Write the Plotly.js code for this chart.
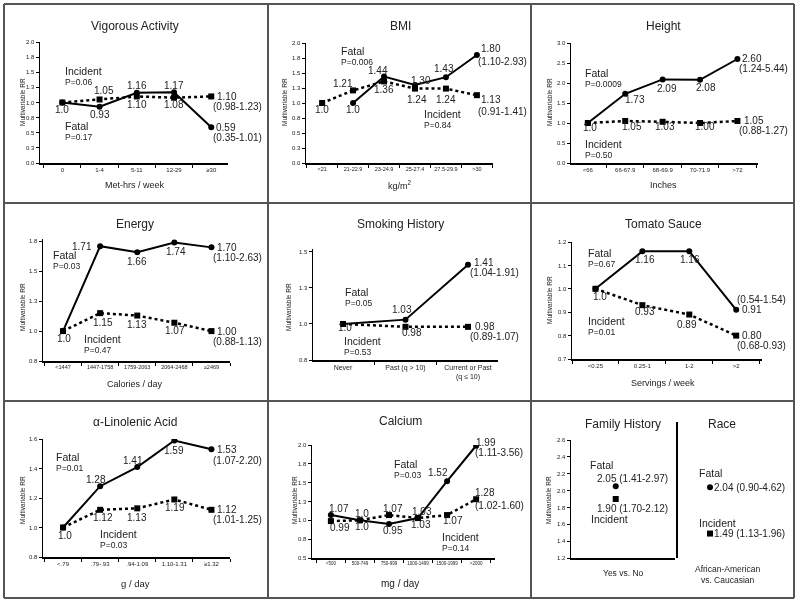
<!DOCTYPE html>
<html><head><meta charset="utf-8">
<script src="https://cdn.plot.ly/plotly-3.0.1.min.js"></script>
<style>html,body{margin:0;padding:0;background:#fff}#chart{width:800px;height:605px}
.main-svg{will-change:transform}
svg text{-webkit-font-smoothing:antialiased}</style>
</head><body><div id="chart"></div>
<script>
// ---------------- DATA ----------------
const vigCats = ["0", "1-4", "5-11", "12-29", "≥30"];
const vigFatal = [1.0, 0.93, 1.16, 1.17, 0.59];
const vigIncident = [1.0, 1.05, 1.10, 1.08, 1.10];
const vigFatalCI = "(0.35-1.01)", vigIncidentCI = "(0.98-1.23)";
const vigFatalP = "P=0.17", vigIncidentP = "P=0.06";

const bmiCats = ["<21", "21-22.9", "23-24.9", "25-27.4", "27.5-29.9", ">30"];
const bmiFatal = [null, 1.0, 1.44, 1.30, 1.43, 1.80];
const bmiIncident = [1.0, 1.21, 1.36, 1.24, 1.24, 1.13];
const bmiFatalCI = "(1.10-2.93)", bmiIncidentCI = "(0.91-1.41)";
const bmiFatalP = "P=0.006", bmiIncidentP = "P=0.84";

const htCats = ["<66", "66-67.9", "68-69.9", "70-71.9", ">72"];
const htFatal = [1.0, 1.73, 2.09, 2.08, 2.60];
const htIncident = [1.0, 1.05, 1.03, 1.00, 1.05];
const htFatalCI = "(1.24-5.44)", htIncidentCI = "(0.88-1.27)";
const htFatalP = "P=0.0009", htIncidentP = "P=0.50";

const enCats = ["<1447", "1447-1758", "1759-2063", "2064-2468", "≥2469"];
const enFatal = [1.0, 1.71, 1.66, 1.74, 1.70];
const enIncident = [1.0, 1.15, 1.13, 1.07, 1.00];
const enFatalCI = "(1.10-2.63)", enIncidentCI = "(0.88-1.13)";
const enFatalP = "P=0.03", enIncidentP = "P=0.47";

const smCats = ["Never", "Past (q > 10)", "Current or Past<br>(q ≤ 10)"];
const smFatal = [1.0, 1.03, 1.41];
const smIncident = [1.0, 0.98, 0.98];
const smFatalCI = "(1.04-1.91)", smIncidentCI = "(0.89-1.07)";
const smFatalP = "P=0.05", smIncidentP = "P=0.53";

const tsCats = ["<0.25", "0.25-1", "1-2", ">2"];
const tsFatal = [1.0, 1.16, 1.16, 0.91];
const tsIncident = [1.0, 0.93, 0.89, 0.80];
const tsFatalCI = "(0.54-1.54)", tsIncidentCI = "(0.68-0.93)";
const tsFatalP = "P=0.67", tsIncidentP = "P=0.01";

const laCats = ["<.79", ".79-.93", ".94-1.09", "1.10-1.31", "≥1.32"];
const laFatal = [1.0, 1.28, 1.41, 1.59, 1.53];
const laIncident = [1.0, 1.12, 1.13, 1.19, 1.12];
const laFatalCI = "(1.07-2.20)", laIncidentCI = "(1.01-1.25)";
const laFatalP = "P=0.01", laIncidentP = "P=0.03";

const caCats = ["<500", "500-749", "750-999", "1000-1499", "1500-1999", ">2000"];
const caFatal = [1.07, 1.0, 0.95, 1.03, 1.52, 1.99];
const caIncident = [0.99, 1.0, 1.07, 1.03, 1.07, 1.28];
const caFatalCI = "(1.11-3.56)", caIncidentCI = "(1.02-1.60)";
const caFatalP = "P=0.03", caIncidentP = "P=0.14";

const famFatal = 2.05, famIncident = 1.90;
const famFatalCI = "(1.41-2.97)", famIncidentCI = "(1.70-2.12)";
const raceFatal = 2.04, raceIncident = 1.49;
const raceFatalCI = "(0.90-4.62)", raceIncidentCI = "(1.13-1.96)";

// ---------------- STYLE / LAYOUT ----------------
const FONT = "'Liberation Sans', Arial, sans-serif";
const TXT = "#222";
const W = 800, H = 605;
const px = x => x / W, py = y => 1 - y / H;

const panels = [
  {title:"Vigorous Activity", xtitle:"Met-hrs / week", cats:vigCats, fatal:vigFatal, inc:vigIncident,
   fCIt:vigFatalCI, iCIt:vigIncidentCI, fP:vigFatalP, iP:vigIncidentP, fRef:0, iRef:0,
   g:{x0:40,x1:228,yt:42,yb:163,xr:[-0.6,4.45],yr:[0,2],t0:0,dt:0.25,tfs:6,
      tp:[135,26], xtp:[135,185,9], ytp:[22,102], ft:[63,126], it:[63,71],
      fLab:[[0,7,'c'],[0,8,'c'],[0,-7,'c'],[0,-7,'c'],[3,0,'l']],
      iLab:[null,[4,-9,'c'],[0,8,'c'],[0,7,'c'],[4,0,'l']], fCI:[0,10], iCI:[0,10]}},
  {title:"BMI", xtitle:"kg/m<sup>2</sup>", cats:bmiCats, fatal:bmiFatal, inc:bmiIncident,
   fCIt:bmiFatalCI, iCIt:bmiIncidentCI, fP:bmiFatalP, iP:bmiIncidentP, fRef:1, iRef:0,
   g:{x0:306,x1:493,yt:43,yb:163,xr:[-0.52,5.52],yr:[0,2],t0:0,dt:0.25,tfs:5.5,
      tp:[400,26], xtp:[400,185,9], ytp:[284,102], ft:[339,51], it:[422,114],
      fLab:[null,[0,7,'c'],[-6,-6,'c'],[6,-4,'c'],[-2,-9,'c'],[2,-6,'l']],
      iLab:[[0,7,'c'],[-10,-7,'c'],[0,8,'c'],[2,11,'c'],[0,11,'c'],[2,4,'l']], fCI:[-1,7], iCI:[-1,16]}},
  {title:"Height", xtitle:"Inches", cats:htCats, fatal:htFatal, inc:htIncident,
   fCIt:htFatalCI, iCIt:htIncidentCI, fP:htFatalP, iP:htIncidentP, fRef:0, iRef:0,
   g:{x0:571,x1:758,yt:43,yb:163,xr:[-0.45,4.55],yr:[0,3],t0:0,dt:0.5,tfs:6,
      tp:[663,26], xtp:[663,185,9], ytp:[549,102], ft:[583,73], it:[583,144],
      fLab:[[2,5,'c'],[10,6,'c'],[4,9,'c'],[6,8,'c'],[3,0,'l']],
      iLab:[null,[7,6,'c'],[2,5,'c'],[5,4,'c'],[5,0,'l']], fCI:[0,10], iCI:[0,10]}},
  {title:"Energy", xtitle:"Calories / day", cats:enCats, fatal:enFatal, inc:enIncident,
   fCIt:enFatalCI, iCIt:enIncidentCI, fP:enFatalP, iP:enIncidentP, fRef:0, iRef:0,
   g:{x0:43,x1:230,yt:239,yb:361,xr:[-0.54,4.5],yr:[0.75,1.77],t0:0.75,dt:0.25,tfs:5.5,
      tp:[135,224], xtp:[135,384,9], ytp:[22,307], ft:[51,255], it:[82,339],
      fLab:[[1,7,'c'],[-6,0,'r'],[0,9,'c'],[2,9,'c'],[4,0,'l']],
      iLab:[null,[3,9,'c'],[0,9,'c'],[1,8,'c'],[4,0,'l']], fCI:[0,10], iCI:[0,10]}},
  {title:"Smoking History", xtitle:"", cats:smCats, fatal:smFatal, inc:smIncident,
   fCIt:smFatalCI, iCIt:smIncidentCI, fP:smFatalP, iP:smIncidentP, fRef:0, iRef:0,
   g:{x0:313,x1:498,yt:249,yb:360,xr:[-0.48,2.48],yr:[0.75,1.52],t0:0.75,dt:0.25,tfs:7,
      tp:[400,224], xtp:null, ytp:[288,307], ft:[343,292], it:[342,341],
      fLab:[[2,4,'c'],[-4,-10,'c'],[4,-2,'l']],
      iLab:[null,[6,6,'c'],[5,0,'l']], fCI:[0,8], iCI:[0,10]}},
  {title:"Tomato Sauce", xtitle:"Servings / week", cats:tsCats, fatal:tsFatal, inc:tsIncident,
   fCIt:tsFatalCI, iCIt:tsIncidentCI, fP:tsFatalP, iP:tsIncidentP, fRef:0, iRef:0,
   g:{x0:572,x1:762,yt:242,yb:359,xr:[-0.5,3.55],yr:[0.7,1.2],t0:0.7,dt:0.1,tfs:6,
      tp:[663,224], xtp:[663,383,9], ytp:[549,300], ft:[586,253], it:[586,321],
      fLab:[[5,8,'c'],[3,8,'c'],[1,8,'c'],[4,0,'l']],
      iLab:[null,[3,6,'c'],[-2,10,'c'],[4,0,'l']], fCI:[-1,-10], iCI:[-1,10]}},
  {title:"α-Linolenic Acid", xtitle:"g / day", cats:laCats, fatal:laFatal, inc:laIncident,
   fCIt:laFatalCI, iCIt:laIncidentCI, fP:laFatalP, iP:laIncidentP, fRef:0, iRef:0,
   g:{x0:43,x1:230,yt:439,yb:557,xr:[-0.54,4.5],yr:[0.8,1.6],t0:0.8,dt:0.2,tfs:6,
      tp:[135,422], xtp:[135,583,9.5], ytp:[22,500], ft:[54,457], it:[98,534],
      fLab:[[2,8,'c'],[-4,-7,'c'],[-4,-7,'c'],[0,10,'c'],[4,0,'l']],
      iLab:[null,[3,8,'c'],[0,9,'c'],[1,8,'c'],[4,0,'l']], fCI:[0,11], iCI:[0,10]}},
  {title:"Calcium", xtitle:"mg / day", cats:caCats, fatal:caFatal, inc:caIncident,
   fCIt:caFatalCI, iCIt:caIncidentCI, fP:caFatalP, iP:caIncidentP, fRef:1, iRef:1,
   g:{x0:312,x1:495,yt:445,yb:558,xr:[-0.65,5.65],yr:[0.5,2.0],t0:0.5,dt:0.25,tfs:4.5,
      tp:[400,421], xtp:[400,583,10], ytp:[294,500], ft:[392,464], it:[440,537],
      fLab:[[8,-7,'c'],[2,-7,'c'],[4,6,'c'],[4,-7,'c'],[-9,-9,'c'],[-2,-3,'l']],
      iLab:[[9,6,'c'],[2,6,'c'],[4,-7,'c'],[3,6,'c'],[6,5,'c'],[9,-7,'c']], fCI:[-3,7], iCI:[-3,6]}}
];

const data = [];
const annotations = [];
const shapes = [];
const layout = {
  width: W, height: H, margin:{l:0,r:0,t:0,b:0}, showlegend:false,
  paper_bgcolor:'#fff', plot_bgcolor:'#fff', font:{family:FONT, color:TXT},
  annotations, shapes
};

function paperText(text, x, y, size, anchor, extra) {
  annotations.push(Object.assign({xref:'paper', yref:'paper', x:px(x), y:py(y), text, showarrow:false,
    xanchor:anchor||'left', yanchor:'middle', font:{family:FONT, size, color:TXT}}, extra||{}));
}

function fatalStyle() {
  return {mode:'lines+markers', line:{color:'#000', width:2}, marker:{symbol:'circle', size:6, color:'#000'}, hoverinfo:'skip'};
}
function incStyle() {
  return {mode:'lines+markers', line:{color:'#000', width:2.5, dash:'dot'}, marker:{symbol:'square', size:6, color:'#000'}, hoverinfo:'skip'};
}

function axisBase() {
  return {showline:true, linecolor:'#000', linewidth:1.5, ticks:'outside', ticklen:3, tickwidth:1,
          tickcolor:'#000', showgrid:false, zeroline:false, fixedrange:true};
}

function addValueLabels(vals, labs, ref, xa, ya) {
  vals.forEach((v, i) => {
    const L = labs[i];
    if (v == null || !L) return;
    annotations.push({xref:xa, yref:ya, x:i, y:v, text: i === ref ? '1.0' : v.toFixed(2),
      showarrow:false, xanchor: L[2]==='l' ? 'left' : (L[2]==='r' ? 'right' : 'center'),
      yanchor:'middle', xshift:L[0], yshift:-L[1], font:{family:FONT, size:10, color:TXT}});
  });
}

panels.forEach((p, k) => {
  const n = k + 1, g = p.g;
  const xa = n === 1 ? 'x' : 'x' + n, ya = n === 1 ? 'y' : 'y' + n;
  const xk = n === 1 ? 'xaxis' : 'xaxis' + n, yk = n === 1 ? 'yaxis' : 'yaxis' + n;
  layout[xk] = Object.assign(axisBase(), {domain:[px(g.x0), px(g.x1)], anchor:ya, type:'category',
    tickson:'boundaries', range:g.xr, tickangle:0, tickfont:{family:FONT, size:g.tfs, color:TXT},
    categoryorder:'array', categoryarray:p.cats});
  layout[yk] = Object.assign(axisBase(), {domain:[py(g.yb), py(g.yt)], anchor:xa, range:g.yr,
    tick0:g.t0, dtick:g.dt, tickformat:'.1f', tickfont:{family:FONT, size:6, color:TXT}});
  data.push(Object.assign(incStyle(), {x:p.cats, y:p.inc, xaxis:xa, yaxis:ya}));
  data.push(Object.assign(fatalStyle(), {x:p.cats, y:p.fatal, xaxis:xa, yaxis:ya}));
  addValueLabels(p.fatal, g.fLab, p.fRef, xa, ya);
  addValueLabels(p.inc, g.iLab, p.iRef, xa, ya);
  const last = p.cats.length - 1;
  annotations.push({xref:xa, yref:ya, x:last, y:p.fatal[last], text:p.fCIt, showarrow:false, xanchor:'left', yanchor:'middle',
    xshift:g.fCI[0], yshift:-g.fCI[1], font:{family:FONT, size:10, color:TXT}});
  annotations.push({xref:xa, yref:ya, x:last, y:p.inc[last], text:p.iCIt, showarrow:false, xanchor:'left', yanchor:'middle',
    xshift:g.iCI[0], yshift:-g.iCI[1], font:{family:FONT, size:10, color:TXT}});
  paperText(p.title, g.tp[0], g.tp[1], 12, 'center');
  if (g.xtp) paperText(p.xtitle, g.xtp[0], g.xtp[1], g.xtp[2], 'center');
  paperText('Multivariable RR', g.ytp[0], g.ytp[1], 6.5, 'center', {textangle:-90});
  paperText('Fatal', g.ft[0], g.ft[1], 10.5);
  paperText(p.fP, g.ft[0], g.ft[1] + 11, 8.5);
  paperText('Incident', g.it[0], g.it[1], 10.5);
  paperText(p.iP, g.it[0], g.it[1] + 11, 8.5);
});

// Panel 9: Family history & race
layout.xaxis9 = Object.assign(axisBase(), {domain:[px(571), px(675)], anchor:'y9', range:[-0.43, 0.57],
  ticks:'', showticklabels:false});
layout.yaxis9 = Object.assign(axisBase(), {domain:[py(558), py(440)], anchor:'x9', range:[1.2, 2.6],
  tick0:1.2, dtick:0.2, tickformat:'.1f', tickfont:{family:FONT, size:6, color:TXT}});
layout.xaxis10 = {domain:[px(677), px(743)], anchor:'y10', range:[-0.5, 0.5], visible:false, fixedrange:true};
layout.yaxis10 = {domain:[py(558), py(440)], anchor:'x10', range:[1.2, 2.6], visible:false, fixedrange:true};
data.push(Object.assign(fatalStyle(), {mode:'markers', x:[0], y:[famFatal], xaxis:'x9', yaxis:'y9'}));
data.push(Object.assign(incStyle(), {mode:'markers', x:[0], y:[famIncident], xaxis:'x9', yaxis:'y9'}));
data.push(Object.assign(fatalStyle(), {mode:'markers', x:[0], y:[raceFatal], xaxis:'x10', yaxis:'y10'}));
data.push(Object.assign(incStyle(), {mode:'markers', x:[0], y:[raceIncident], xaxis:'x10', yaxis:'y10'}));
paperText('Family History', 623, 424, 12, 'center');
paperText('Race', 722, 424, 12, 'center');
paperText('Multivariable RR', 548, 500, 6.5, 'center', {textangle:-90});
paperText('Fatal', 588, 465, 10.5);
annotations.push({xref:'x9', yref:'y9', x:0, y:famFatal, text: famFatal.toFixed(2) + ' ' + famFatalCI, showarrow:false,
  xanchor:'left', yanchor:'middle', xshift:-21, yshift:8, font:{family:FONT, size:10, color:TXT}});
annotations.push({xref:'x9', yref:'y9', x:0, y:famIncident, text: famIncident.toFixed(2) + ' ' + famIncidentCI, showarrow:false,
  xanchor:'left', yanchor:'middle', xshift:-21, yshift:-9, font:{family:FONT, size:10, color:TXT}});
paperText('Incident', 589, 519, 10.5);
paperText('Fatal', 697, 473, 10.5);
annotations.push({xref:'x10', yref:'y10', x:0, y:raceFatal, text: raceFatal.toFixed(2) + ' ' + raceFatalCI, showarrow:false,
  xanchor:'left', yanchor:'middle', xshift:2, yshift:0, font:{family:FONT, size:10, color:TXT}});
paperText('Incident', 697, 523, 10.5);
annotations.push({xref:'x10', yref:'y10', x:0, y:raceIncident, text: raceIncident.toFixed(2) + ' ' + raceIncidentCI, showarrow:false,
  xanchor:'left', yanchor:'middle', xshift:2, yshift:0, font:{family:FONT, size:10, color:TXT}});
paperText('Yes vs. No', 623, 573, 8.5, 'center');
paperText('African-American<br>vs. Caucasian', 727, 574, 8.5, 'center');
shapes.push({type:'line', xref:'paper', yref:'paper', x0:px(677), x1:px(677), y0:py(422), y1:py(558), line:{color:'#000', width:2}});

// Panel borders
[4, 268, 531, 794].forEach(x => shapes.push({type:'line', xref:'paper', yref:'paper', x0:px(x), x1:px(x), y0:py(4), y1:py(598), line:{color:'#555', width:2}}));
[4, 203, 401, 598].forEach(y => shapes.push({type:'line', xref:'paper', yref:'paper', x0:px(4), x1:px(794), y0:py(y), y1:py(y), line:{color:'#555', width:2}}));

Plotly.newPlot('chart', data, layout, {displayModeBar:false, staticPlot:true});
</script>
</body></html>
